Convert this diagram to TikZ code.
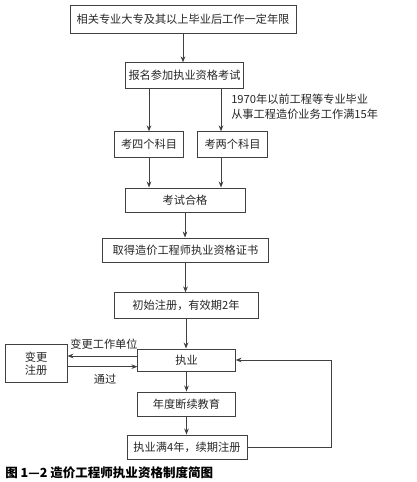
\documentclass[tikz,border=0pt]{standalone}
\usepackage{fontspec}
\setmainfont{Noto Sans CJK SC}
\usetikzlibrary{arrows.meta}
\tikzset{
  flowbox/.style={draw=black!75, line width=0.7pt, text=black!85, inner sep=0pt,
    font=\fontsize{8.4}{10}\selectfont},
  flowline/.style={draw=black!75, line width=0.7pt, -{Stealth[length=4.5pt,width=3.5pt]}},
  sidetext/.style={text=black!85, inner sep=0pt, font=\fontsize{8.4}{11}\selectfont}
}
\begin{document}
\begin{tikzpicture}[x=0.75pt, y=-0.75pt]
      \useasboundingbox (0,0) rectangle (417,482);
      % Place the boxes
      \node[flowbox, minimum width=169.5, minimum height=21] (req) at (183,19) {相关专业大专及其以上毕业后工作一定年限};
      \node[flowbox, minimum width=89, minimum height=19] (apply) at (184.5,75.5) {报名参加执业资格考试};
      \node[flowbox, minimum width=52, minimum height=19] (four) at (149,144.5) {考四个科目};
      \node[flowbox, minimum width=53, minimum height=19] (two) at (232.5,144.5) {考两个科目};
      \node[flowbox, minimum width=90, minimum height=18] (pass) at (185,200) {考试合格};
      \node[flowbox, minimum width=125, minimum height=18] (cert) at (185.5,250) {取得造价工程师执业资格证书};
      \node[flowbox, minimum width=108, minimum height=19] (init) at (186,305.5) {初始注册，有效期2年};
      \node[flowbox, minimum width=73, minimum height=16.5] (work) at (186.5,360) {执业};
      \node[flowbox, minimum width=46.5, minimum height=29, align=center] (change) at (36,363.5) {变更\\注册};
      \node[flowbox, minimum width=73, minimum height=18] (edu) at (186.5,404) {年度断续教育};
      \node[flowbox, minimum width=90, minimum height=18] (renew) at (187,447) {执业满4年，续期注册};
      % Side texts
      \node[sidetext, anchor=west, align=left] (note) at (231,107) {1970年以前工程等专业毕业\\从事工程造价业务工作满15年};
      \node[sidetext] (move) at (104,344) {变更工作单位};
      \node[sidetext] (ok) at (105,379.5) {通过};
      \node[inner sep=0pt, anchor=west, text=black, font=\fontsize{9.4}{11}\selectfont\bfseries] (title) at (5,473) {图 1—2 造价工程师执业资格制度简图};
      % Helper coordinates
      \coordinate (rx) at (221,0);
      \coordinate (loop) at (331,0);
      % Draw arrows down the chart
      \draw[flowline] (req.south) -- (req.south |- apply.north);
      \draw[flowline] (apply.south -| four.north) -- (four.north);
      \draw[flowline] (apply.south -| rx) -- (two.north -| rx);
      \draw[flowline] (four.south) -- (four.south |- pass.north);
      \draw[flowline] (two.south -| rx) -- (pass.north -| rx);
      \draw[flowline] (pass.south) -- (pass.south |- cert.north);
      \draw[flowline] (cert.south) -- (cert.south |- init.north);
      \draw[flowline] (init.south) -- (init.south |- work.north);
      \draw[flowline] (work.south) -- (work.south |- edu.north);
      \draw[flowline] (edu.south) -- (edu.south |- renew.north);
      % Draw arrows work <-> change
      \draw[flowline] ([yshift=3pt]work.west) -- ([yshift=3pt]work.west -| change.east);
      \draw[flowline] ([yshift=-5pt]work.west -| change.east) -- ([yshift=-5pt]work.west);
      % Draw the loop back
      \draw[flowline] (renew.east) -- (renew.east -| loop) |- (work.east);
\end{tikzpicture}
\end{document}
